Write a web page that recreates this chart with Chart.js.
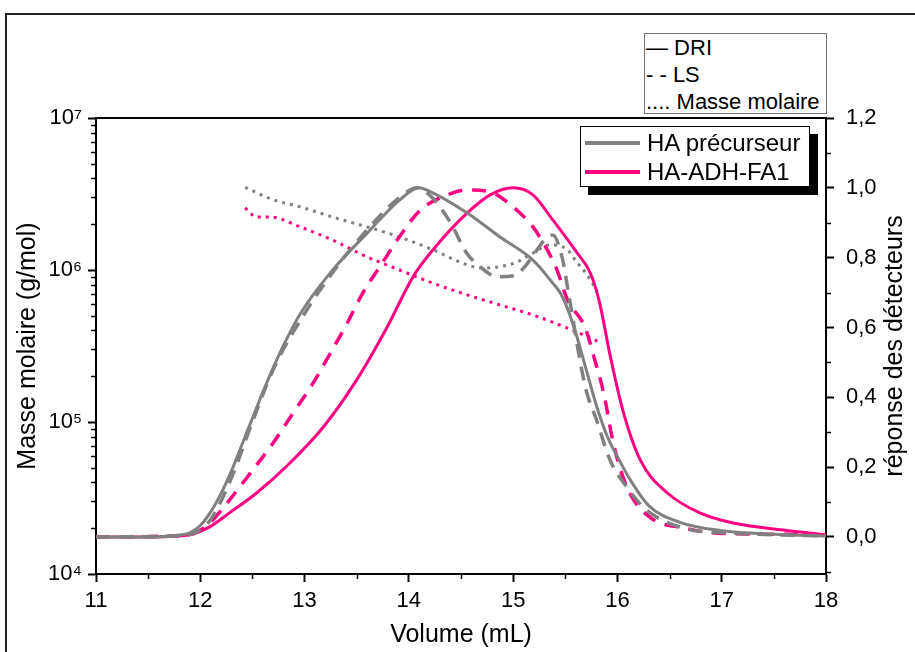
<!DOCTYPE html>
<html>
<head>
<meta charset="utf-8">
<script src="https://cdn.jsdelivr.net/npm/chart.js@4"></script>
<style>
  body { margin: 0; background: #fff; overflow: hidden; }
  #wrap { position: relative; width: 915px; height: 652px; font-family: 'Liberation Sans', Arial, sans-serif; }
  #frame { position: absolute; left: 5px; top: 13px; width: 1000px; height: 1000px; border: 2px solid #222; pointer-events: none; }
  .box { position: absolute; background: #fff; color: #000; }
  #detLegend { left: 644px; top: 33px; width: 181px; height: 79px; border: 1px solid #777; font-size: 22px; line-height: 27px; }
  #detLegend div { padding-left: 1px; white-space: nowrap; }
  #seriesLegend { left: 580px; top: 126px; width: 228px; height: 59px; border: 1px solid #000; box-shadow: 8px 8px 0 #000; font-size: 24px; }
  .row { position: absolute; left: 0; height: 29px; line-height: 29px; white-space: nowrap; }
  .swatch { position: absolute; left: 4px; top: 13px; width: 55px; height: 4px; }
  .lbl { position: absolute; left: 66px; top: 0; }
</style>
</head>
<body>
<div id="wrap">
  <canvas id="gpc" width="915" height="652"></canvas>
  <div id="frame"></div>
  <div id="detLegend" class="box">
    <div>— DRI</div>
    <div>- - LS</div>
    <div>.... Masse molaire</div>
  </div>
  <div id="seriesLegend" class="box">
    <div class="row" style="top:1px"><span class="swatch" style="background:#808080"></span><span class="lbl">HA précurseur</span></div>
    <div class="row" style="top:30px"><span class="swatch" style="background:#ff0080"></span><span class="lbl">HA-ADH-FA1</span></div>
  </div>
</div>
<script>
// volume (mL) / detector response
const volDriPrec = [11.0, 11.5, 11.8, 11.9, 12.0, 12.1, 12.2, 12.3, 12.4, 12.5, 12.6, 12.7, 12.8, 12.96, 13.27, 13.6, 13.91, 14.1, 14.2, 14.56, 14.87, 15.19, 15.38, 15.45, 15.52, 15.6, 15.7, 15.8, 15.9, 16.0, 16.12, 16.3, 16.6, 17.0, 17.5, 18.0];
const driPrec    = [0.0, 0.0, 0.005, 0.012, 0.033, 0.072, 0.125, 0.19, 0.265, 0.34, 0.415, 0.485, 0.55, 0.64, 0.765, 0.87, 0.965, 1.0, 0.99, 0.928, 0.86, 0.793, 0.727, 0.7, 0.655, 0.585, 0.48, 0.375, 0.29, 0.23, 0.165, 0.09, 0.042, 0.018, 0.008, 0.003];

const volLsPrec = [11.0, 11.8, 11.95, 12.1, 12.3, 12.5, 12.7, 13.0, 13.3, 13.6, 13.9, 14.08, 14.23, 14.4, 14.55, 14.7, 14.85, 15.0, 15.1, 15.2, 15.3, 15.38, 15.47, 15.53, 15.64, 15.7, 15.8, 15.93, 16.09, 16.28, 16.63, 17.11, 18.0];
const lsPrec    = [0.0, 0.004, 0.012, 0.05, 0.17, 0.33, 0.48, 0.64, 0.77, 0.88, 0.97, 1.0, 0.97, 0.9, 0.815, 0.77, 0.745, 0.748, 0.77, 0.81, 0.85, 0.865, 0.8, 0.7, 0.507, 0.42, 0.335, 0.22, 0.143, 0.077, 0.026, 0.011, 0.003];

const volDriFa1 = [11.0, 11.5, 11.8, 11.9, 12.09, 12.28, 12.54, 12.86, 13.18, 13.5, 13.79, 14.04, 14.23, 14.56, 14.78, 15.0, 15.19, 15.38, 15.61, 15.74, 15.83, 15.93, 16.05, 16.22, 16.48, 16.79, 17.11, 17.59, 18.0];
const driFa1    = [0.0, 0.0, 0.003, 0.006, 0.029, 0.069, 0.126, 0.212, 0.315, 0.45, 0.6, 0.745, 0.822, 0.928, 0.98, 1.0, 0.98, 0.908, 0.815, 0.756, 0.67, 0.52, 0.365, 0.22, 0.126, 0.069, 0.04, 0.02, 0.006];

const volLsFa1 = [11.0, 11.9, 12.0, 12.09, 12.28, 12.48, 12.7, 12.89, 13.08, 13.21, 13.41, 13.56, 13.72, 13.91, 14.11, 14.37, 14.56, 14.78, 15.0, 15.19, 15.29, 15.42, 15.52, 15.69, 15.78, 15.87, 15.96, 16.09, 16.31, 16.63, 16.95, 17.5, 18.0];
const lsFa1    = [0.0, 0.006, 0.02, 0.04, 0.106, 0.183, 0.27, 0.355, 0.44, 0.507, 0.613, 0.7, 0.773, 0.86, 0.936, 0.98, 0.994, 0.988, 0.945, 0.888, 0.842, 0.765, 0.68, 0.6, 0.51, 0.41, 0.27, 0.143, 0.057, 0.026, 0.011, 0.008, 0.006];

// molar mass (g/mol)
const volMwPrec = [12.43, 12.7, 12.96, 13.27, 13.6, 13.91, 14.23, 14.56, 14.71, 14.9, 15.04, 15.19, 15.35, 15.52, 15.6, 15.7, 15.81];
const mwPrec    = [3.5e6, 2.9e6, 2.6e6, 2.23e6, 1.92e6, 1.65e6, 1.36e6, 1.08e6, 1.03e6, 1.06e6, 1.13e6, 1.29e6, 1.46e6, 1.36e6, 1.15e6, 9.5e5, 7.2e5];

const volMwFa1 = [12.43, 12.5, 12.54, 12.67, 12.96, 13.27, 13.6, 13.91, 14.23, 14.56, 14.87, 15.19, 15.52, 15.83];
const mwFa1    = [2.56e6, 2.3e6, 2.23e6, 2.23e6, 1.92e6, 1.57e6, 1.22e6, 1.0e6, 8.2e5, 6.86e5, 5.9e5, 5.06e5, 4.15e5, 3.36e5];

const xTicks = [11, 12, 13, 14, 15, 16, 17, 18];
const massTicks = [1e4, 1e5, 1e6, 1e7];
const respTicks = [0, 0.2, 0.4, 0.6, 0.8, 1.0, 1.2];

const GREY = '#808080';
const PINK = '#ff0080';
const sup = { 4: '⁴', 5: '⁵', 6: '⁶', 7: '⁷' };

Chart.defaults.font.family = "'Liberation Sans', Arial, sans-serif";
Chart.defaults.color = '#000';

const pts = (xs, ys) => xs.map((x, i) => ({ x: x, y: ys[i] }));

const line = (label, xs, ys, color, dash, axis, width) => ({
  label: label,
  data: pts(xs, ys),
  borderColor: color,
  borderWidth: width,
  borderDash: dash,
  pointRadius: 0,
  cubicInterpolationMode: 'monotone',
  fill: false,
  yAxisID: axis
});

// minor ticks, top frame line and right axis title
const extras = {
  id: 'extras',
  afterDraw(chart) {
    const ctx = chart.ctx;
    const { x, y, y1 } = chart.scales;
    const a = chart.chartArea;
    ctx.save();
    ctx.strokeStyle = '#000';
    ctx.lineWidth = 2;
    ctx.beginPath();
    ctx.moveTo(a.left - 1, a.top);
    ctx.lineTo(a.right + 1, a.top);
    ctx.stroke();

    ctx.lineWidth = 1.5;
    ctx.beginPath();
    for (let v = 11.5; v < 18; v += 1) {
      const px = Math.round(x.getPixelForValue(v)) + 0.5;
      ctx.moveTo(px, a.bottom);
      ctx.lineTo(px, a.bottom + 5);
    }
    for (let d = 1e4; d < 1e7; d *= 10) {
      for (let m = 2; m <= 9; m++) {
        const py = Math.round(y.getPixelForValue(m * d)) + 0.5;
        ctx.moveTo(a.left - 5, py);
        ctx.lineTo(a.left, py);
      }
    }
    for (let v = -0.1; v < 1.2; v += 0.2) {
      const py = Math.round(y1.getPixelForValue(v)) + 0.5;
      ctx.moveTo(a.right, py);
      ctx.lineTo(a.right + 5, py);
    }
    ctx.stroke();

    ctx.translate(895, (a.top + a.bottom) / 2);
    ctx.rotate(-Math.PI / 2);
    ctx.fillStyle = '#000';
    ctx.font = "25px 'Liberation Sans', Arial, sans-serif";
    ctx.textAlign = 'center';
    ctx.textBaseline = 'middle';
    ctx.fillText('réponse des détecteurs', 0, 0);
    ctx.restore();
  }
};

const axisGrid = { drawOnChartArea: false, tickLength: 8, tickColor: '#000', tickWidth: 2 };
const axisBorder = { color: '#000', width: 2 };

new Chart(document.getElementById('gpc'), {
  type: 'line',
  data: {
    datasets: [
      line('HA précurseur DRI', volDriPrec, driPrec, GREY, [], 'y1', 3),
      line('HA précurseur LS', volLsPrec, lsPrec, GREY, [14, 9], 'y1', 3.5),
      line('HA-ADH-FA1 DRI', volDriFa1, driFa1, PINK, [], 'y1', 3),
      line('HA-ADH-FA1 LS', volLsFa1, lsFa1, PINK, [14, 10], 'y1', 3.5),
      line('HA précurseur Mw', volMwPrec, mwPrec, GREY, [3, 5], 'y', 3),
      line('HA-ADH-FA1 Mw', volMwFa1, mwFa1, PINK, [3, 5], 'y', 3)
    ]
  },
  options: {
    responsive: false,
    animation: false,
    layout: { padding: { top: 118, left: 0, right: 0, bottom: 0 } },
    plugins: { legend: { display: false }, tooltip: { enabled: false } },
    scales: {
      x: {
        type: 'linear',
        position: 'bottom',
        min: 11,
        max: 18,
        afterBuildTicks: s => { s.ticks = xTicks.map(v => ({ value: v })); },
        afterFit: s => { s.height = 78; },
        ticks: { font: { size: 22 }, padding: 6, maxRotation: 0 },
        grid: axisGrid,
        border: axisBorder,
        title: { display: true, text: 'Volume (mL)', font: { size: 25 }, padding: { top: 0, bottom: 2 } }
      },
      y: {
        type: 'logarithmic',
        position: 'left',
        min: 1e4,
        max: 1e7,
        afterBuildTicks: s => { s.ticks = massTicks.map(v => ({ value: v, major: true })); },
        afterFit: s => { s.width = 96; },
        ticks: {
          font: { size: 22 },
          padding: 6,
          callback: v => '10' + sup[Math.round(Math.log10(v))]
        },
        grid: axisGrid,
        border: axisBorder,
        title: { display: true, text: 'Masse molaire (g/mol)', font: { size: 25 }, padding: { top: 13, bottom: 0 } }
      },
      y1: {
        type: 'linear',
        position: 'right',
        min: -0.106,
        max: 1.2,
        afterBuildTicks: s => { s.ticks = respTicks.map(v => ({ value: v })); },
        afterFit: s => { s.width = 89; },
        ticks: {
          font: { size: 22 },
          padding: 12,
          callback: v => v.toFixed(1).replace('.', ',')
        },
        grid: axisGrid,
        border: axisBorder
      }
    }
  },
  plugins: [extras]
});
</script>
</body>
</html>
